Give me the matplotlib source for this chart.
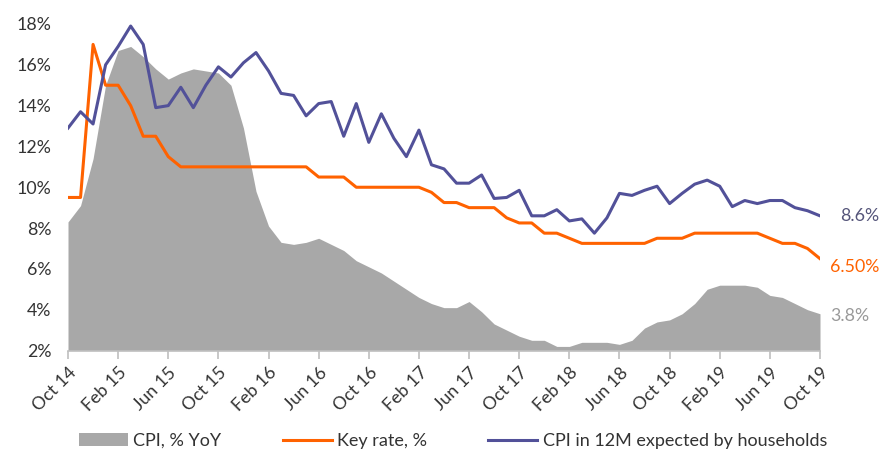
import numpy as np
import matplotlib
matplotlib.use("Agg")
import matplotlib.pyplot as plt

plt.rcParams['font.family'] = ['Lato', 'DejaVu Sans']

# === Daten (monatlich, Oct 14 - Oct 19) ===
months = list(range(61))
tick_pos = list(range(0, 61, 4))
tick_labels = ['Oct 14', 'Feb 15', 'Jun 15', 'Oct 15', 'Feb 16', 'Jun 16', 'Oct 16', 'Feb 17',
               'Jun 17', 'Oct 17', 'Feb 18', 'Jun 18', 'Oct 18', 'Feb 19', 'Jun 19', 'Oct 19']

cpi_yoy = [8.3, 9.1, 11.4, 15.0, 16.7, 16.9, 16.4, 15.8, 15.3, 15.6, 15.8, 15.7, 15.6, 15.0,
           12.9, 9.8, 8.1, 7.3, 7.2, 7.3, 7.5, 7.2, 6.9, 6.4, 6.1, 5.8, 5.4, 5.0, 4.6, 4.3,
           4.1, 4.1, 4.4, 3.9, 3.3, 3.0, 2.7, 2.5, 2.5, 2.2, 2.2, 2.4, 2.4, 2.4, 2.3, 2.5,
           3.1, 3.4, 3.5, 3.8, 4.3, 5.0, 5.2, 5.2, 5.2, 5.1, 4.7, 4.6, 4.3, 4.0, 3.8]

key_rate = [9.5, 9.5, 17.0, 15.0, 15.0, 14.0, 12.5, 12.5, 11.5,
            11.0, 11.0, 11.0, 11.0, 11.0, 11.0, 11.0, 11.0, 11.0, 11.0, 11.0,
            10.5, 10.5, 10.5, 10.0, 10.0, 10.0, 10.0, 10.0, 10.0,
            9.75, 9.25, 9.25, 9.0, 9.0, 9.0, 8.5, 8.25, 8.25, 7.75, 7.75, 7.5,
            7.25, 7.25, 7.25, 7.25, 7.25, 7.25, 7.5, 7.5, 7.5,
            7.75, 7.75, 7.75, 7.75, 7.75, 7.75, 7.5, 7.25, 7.25, 7.0, 6.5]

cpi_expected = [12.9, 13.7, 13.1, 16.0, 16.9, 17.9, 17.0, 13.9, 14.0, 14.9, 13.9, 15.0, 15.9,
                15.4, 16.1, 16.6, 15.7, 14.6, 14.5, 13.5, 14.1, 14.2, 12.5, 14.1, 12.2, 13.6,
                12.4, 11.5, 12.8, 11.1, 10.9, 10.2, 10.2, 10.6, 9.45, 9.5, 9.85, 8.6, 8.6, 8.9,
                8.35, 8.45, 7.75, 8.5, 9.7, 9.6, 9.85, 10.05, 9.2, 9.7, 10.15, 10.35, 10.05,
                9.05, 9.35, 9.2, 9.35, 9.35, 9.0, 8.85, 8.6]

grey = '#A8A8A8'
orange = '#FF6200'
purple = '#525199'

# === Plot erstellen ===
fig = plt.figure(figsize=(8.81, 4.5), dpi=100)
ax = fig.add_axes([68 / 881, 1 - 350.5 / 450, (820 - 68) / 881, (350.5 - 24) / 450])

ax.fill_between(months, 2, cpi_yoy, color=grey, lw=0, label='CPI, % YoY')
ax.plot(months, key_rate, color=orange, lw=2.2, label='Key rate, %')
ax.plot(months, cpi_expected, color=purple, lw=2.2, label='CPI in 12M expected by households')

ax.set_xlim(0, 60)
ax.set_ylim(2, 18)
ax.set_yticks(range(2, 19, 2))
ax.set_yticklabels([f'{v}%' for v in range(2, 19, 2)])
ax.set_xticks(tick_pos)
ax.set_xticklabels(tick_labels, rotation=45, ha='right', rotation_mode='anchor')

for s in ['top', 'right', 'left']:
    ax.spines[s].set_visible(False)
ax.spines['bottom'].set_color('#BFBFBF')
ax.spines['bottom'].set_linewidth(1.2)
ax.tick_params(axis='y', length=0, labelsize=12.8, labelcolor='#333333', pad=12)
ax.tick_params(axis='x', length=6, color='#BFBFBF', width=1.2, labelsize=12.8,
               labelcolor='#333333', pad=4)

# === Endwerte rechts ===
ax.text(60 + 1.6, cpi_expected[-1], f'{cpi_expected[-1]}%', color='#55557A', fontsize=12.8,
        va='center', ha='left')
ax.text(60 + 0.8, key_rate[-1] - 0.4, f'{key_rate[-1]:.2f}%', color=orange, fontsize=12.8,
        va='center', ha='left')
ax.text(60 + 0.8, cpi_yoy[-1] - 0.1, f'{cpi_yoy[-1]}%', color='#999999', fontsize=12.8,
        va='center', ha='left')

fig.legend(loc='center', bbox_to_anchor=(453 / 881, 1 - 441 / 450), ncol=3, frameon=False,
           fontsize=13, handlelength=2.7, handleheight=0.7, columnspacing=3.4,
           handletextpad=0.3, labelcolor='#333333', borderpad=0)

plt.savefig('out.png', dpi=100)
